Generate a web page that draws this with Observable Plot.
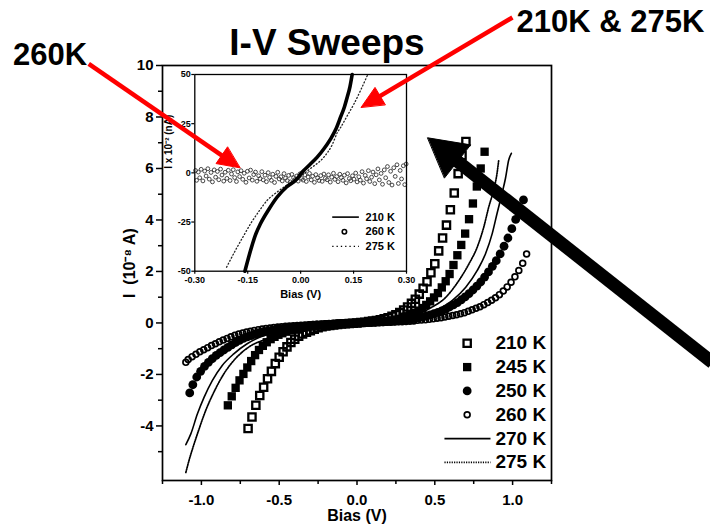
<!DOCTYPE html>
<html><head><meta charset="utf-8">
<script src="https://cdn.jsdelivr.net/npm/d3@7"></script>
<script src="https://cdn.jsdelivr.net/npm/@observablehq/plot@0.6"></script>
<style>
body{margin:0;background:#fff;}
#wrap{position:relative;width:710px;height:527px;overflow:hidden;background:#fff;}
#inset{position:absolute;left:150px;top:60px;z-index:1;}
#main{position:absolute;left:0;top:0;z-index:2;}
svg text{font-weight:bold;}
</style></head><body>
<div id="wrap"><div id="inset"></div><div id="main"></div></div>
<script>
// ---------------- DATA ----------------
const seriesLabels = ["210 K","245 K","250 K","260 K","270 K","275 K"];
const insetLabels = ["210 K","260 K","275 K"];
const titleText = "I-V Sweeps";
const annotTexts = ["260K","210K & 275K"];

// main panel: [bias (V), current (1e-8 A)]
const iv210 = [[-0.700,-4.10],[-0.675,-3.65],[-0.650,-3.20],[-0.625,-2.82],[-0.600,-2.50],[-0.575,-2.17],[-0.550,-1.88],[-0.525,-1.58],[-0.500,-1.33],[-0.475,-1.12],[-0.450,-0.93],[-0.425,-0.76],[-0.400,-0.63],[-0.375,-0.52],[-0.350,-0.43],[-0.325,-0.36],[-0.300,-0.30],[-0.275,-0.24],[-0.250,-0.19],[-0.225,-0.15],[-0.200,-0.12],[-0.175,-0.10],[-0.150,-0.08],[-0.125,-0.06],[-0.100,-0.04],[-0.075,-0.03],[-0.050,-0.02],[-0.025,-0.01],[0.000,0.00],[0.025,0.02],[0.050,0.03],[0.075,0.05],[0.100,0.07],[0.125,0.09],[0.150,0.12],[0.175,0.16],[0.200,0.20],[0.225,0.26],[0.250,0.32],[0.275,0.40],[0.300,0.50],[0.325,0.62],[0.350,0.76],[0.375,0.92],[0.400,1.12],[0.425,1.35],[0.450,1.60],[0.475,1.95],[0.500,2.30],[0.525,2.80],[0.550,3.30],[0.575,3.80],[0.600,4.40],[0.625,5.05],[0.650,5.80],[0.675,6.50],[0.700,7.05]];
const iv245 = [[-0.830,-3.20],[-0.805,-2.85],[-0.780,-2.52],[-0.755,-2.23],[-0.730,-1.98],[-0.705,-1.73],[-0.680,-1.48],[-0.655,-1.25],[-0.630,-1.05],[-0.605,-0.89],[-0.580,-0.75],[-0.555,-0.63],[-0.530,-0.54],[-0.505,-0.46],[-0.480,-0.40],[-0.455,-0.34],[-0.430,-0.29],[-0.405,-0.25],[-0.380,-0.22],[-0.355,-0.19],[-0.330,-0.17],[-0.305,-0.14],[-0.280,-0.12],[-0.255,-0.10],[-0.230,-0.09],[-0.205,-0.07],[-0.180,-0.06],[-0.155,-0.05],[-0.130,-0.04],[-0.105,-0.03],[-0.080,-0.02],[-0.055,-0.01],[-0.030,-0.01],[-0.005,0.00],[0.020,0.00],[0.045,0.01],[0.070,0.02],[0.095,0.03],[0.120,0.04],[0.145,0.05],[0.170,0.06],[0.195,0.08],[0.220,0.10],[0.245,0.13],[0.270,0.16],[0.295,0.21],[0.320,0.26],[0.345,0.32],[0.370,0.39],[0.395,0.48],[0.420,0.58],[0.445,0.70],[0.470,0.84],[0.495,0.99],[0.520,1.16],[0.545,1.38],[0.570,1.62],[0.595,1.90],[0.620,2.25],[0.645,2.63],[0.670,3.03],[0.695,3.47],[0.720,4.03],[0.745,4.64],[0.770,5.30],[0.795,6.00],[0.820,6.65]];
const iv250 = [[-1.075,-2.72],[-1.055,-2.40],[-1.030,-2.10],[-1.005,-1.88],[-0.980,-1.69],[-0.955,-1.53],[-0.930,-1.39],[-0.905,-1.26],[-0.880,-1.15],[-0.855,-1.05],[-0.830,-0.95],[-0.805,-0.85],[-0.780,-0.76],[-0.755,-0.68],[-0.730,-0.60],[-0.705,-0.54],[-0.680,-0.49],[-0.655,-0.44],[-0.630,-0.40],[-0.605,-0.36],[-0.580,-0.33],[-0.555,-0.30],[-0.530,-0.27],[-0.505,-0.24],[-0.480,-0.22],[-0.455,-0.20],[-0.430,-0.18],[-0.405,-0.16],[-0.380,-0.15],[-0.355,-0.13],[-0.330,-0.12],[-0.305,-0.10],[-0.280,-0.09],[-0.255,-0.08],[-0.230,-0.07],[-0.205,-0.06],[-0.180,-0.05],[-0.155,-0.04],[-0.130,-0.03],[-0.105,-0.02],[-0.080,-0.02],[-0.055,-0.01],[-0.030,-0.01],[-0.005,0.00],[0.020,0.00],[0.045,0.01],[0.070,0.01],[0.095,0.02],[0.120,0.02],[0.145,0.03],[0.170,0.04],[0.195,0.05],[0.220,0.06],[0.245,0.07],[0.270,0.08],[0.295,0.10],[0.320,0.12],[0.345,0.14],[0.370,0.17],[0.395,0.20],[0.420,0.23],[0.445,0.27],[0.470,0.31],[0.495,0.36],[0.520,0.41],[0.545,0.47],[0.570,0.54],[0.595,0.62],[0.620,0.70],[0.645,0.79],[0.670,0.90],[0.695,1.01],[0.720,1.14],[0.745,1.28],[0.770,1.43],[0.795,1.59],[0.820,1.78],[0.845,1.98],[0.870,2.20],[0.895,2.42],[0.920,2.68],[0.945,2.98],[0.970,3.30],[0.995,3.66],[1.020,4.02],[1.045,4.38],[1.070,4.78]];
const iv260 = [[-1.100,-1.53],[-1.085,-1.42],[-1.060,-1.31],[-1.035,-1.22],[-1.010,-1.12],[-0.985,-1.04],[-0.960,-0.96],[-0.935,-0.88],[-0.910,-0.81],[-0.885,-0.73],[-0.860,-0.66],[-0.835,-0.60],[-0.810,-0.54],[-0.785,-0.48],[-0.760,-0.43],[-0.735,-0.39],[-0.710,-0.35],[-0.685,-0.32],[-0.660,-0.29],[-0.635,-0.26],[-0.610,-0.24],[-0.585,-0.22],[-0.560,-0.20],[-0.535,-0.18],[-0.510,-0.16],[-0.485,-0.15],[-0.460,-0.13],[-0.435,-0.12],[-0.410,-0.11],[-0.385,-0.10],[-0.360,-0.09],[-0.335,-0.08],[-0.310,-0.07],[-0.285,-0.06],[-0.260,-0.05],[-0.235,-0.05],[-0.210,-0.04],[-0.185,-0.03],[-0.160,-0.03],[-0.135,-0.02],[-0.110,-0.02],[-0.085,-0.01],[-0.060,-0.01],[-0.035,-0.01],[-0.010,0.00],[0.015,0.00],[0.040,0.00],[0.065,0.01],[0.090,0.01],[0.115,0.01],[0.140,0.02],[0.165,0.02],[0.190,0.03],[0.215,0.03],[0.240,0.04],[0.265,0.05],[0.290,0.05],[0.315,0.06],[0.340,0.07],[0.365,0.08],[0.390,0.10],[0.415,0.11],[0.440,0.12],[0.465,0.14],[0.490,0.16],[0.515,0.18],[0.540,0.20],[0.565,0.23],[0.590,0.26],[0.615,0.29],[0.640,0.32],[0.665,0.36],[0.690,0.40],[0.715,0.45],[0.740,0.51],[0.765,0.57],[0.790,0.63],[0.815,0.71],[0.840,0.79],[0.865,0.88],[0.890,0.98],[0.915,1.10],[0.940,1.24],[0.965,1.40],[0.990,1.58],[1.015,1.79],[1.040,2.04],[1.065,2.32],[1.090,2.68]];
const iv270 = [[-1.100,-4.73],[-1.068,-4.31],[-1.026,-3.54],[-0.983,-2.89],[-0.930,-2.24],[-0.866,-1.65],[-0.792,-1.20],[-0.706,-0.81],[-0.622,-0.55],[-0.550,-0.40],[-0.473,-0.29],[-0.380,-0.19],[-0.260,-0.10],[-0.150,-0.05],[0.000,0.00],[0.150,0.04],[0.260,0.09],[0.358,0.16],[0.430,0.30],[0.507,0.49],[0.613,0.88],[0.699,1.39],[0.773,2.04],[0.826,2.69],[0.869,3.47],[0.900,4.25],[0.932,5.03],[0.954,5.61],[0.975,6.33],[0.992,6.59]];
const iv275 = [[-1.100,-5.81],[-1.080,-5.35],[-1.047,-4.70],[-1.015,-4.12],[-0.973,-3.41],[-0.920,-2.69],[-0.856,-1.98],[-0.782,-1.39],[-0.696,-0.94],[-0.579,-0.62],[-0.430,-0.36],[-0.217,-0.14],[0.000,0.00],[0.150,0.05],[0.315,0.16],[0.463,0.55],[0.571,1.00],[0.656,1.66],[0.720,2.30],[0.773,2.95],[0.815,3.73],[0.847,4.51],[0.878,5.16],[0.900,5.81],[0.911,6.33]];

// inset: [bias (V), current (1e-2 nA)]
const in210 = [[-0.158,-50],[-0.142,-39.5],[-0.128,-31.5],[-0.114,-25.9],[-0.090,-18.5],[-0.067,-12.4],[-0.040,-7.2],[-0.010,-3.0],[0.004,0.3],[0.025,4.0],[0.047,8.0],[0.065,12.0],[0.085,17.3],[0.100,22.3],[0.113,28.3],[0.124,33.5],[0.132,38.5],[0.140,44.0],[0.146,50]];
const in275 = [[-0.210,-48],[-0.180,-37.8],[-0.160,-31.5],[-0.142,-25.9],[-0.118,-19.5],[-0.095,-14.0],[-0.070,-10.2],[-0.048,-7.3],[-0.010,-3.0],[0.030,2.5],[0.066,8.0],[0.090,14.5],[0.104,20.5],[0.113,23.0],[0.132,29.0],[0.151,35.0],[0.170,42.0],[0.189,49.5]];
const in260 = [[-0.298,1.2],[-0.295,-3.8],[-0.290,0.4],[-0.286,-2.5],[-0.282,1.8],[-0.277,-4.1],[-0.272,0.9],[-0.268,-1.6],[-0.263,2.1],[-0.259,-3.2],[-0.254,0.2],[-0.250,-4.6],[-0.245,1.5],[-0.241,-2.2],[-0.236,0.7],[-0.232,-3.5],[-0.227,1.9],[-0.223,-1.1],[-0.218,-4.2],[-0.214,0.3],[-0.209,-2.8],[-0.205,1.3],[-0.200,-3.9],[-0.196,-0.6],[-0.191,1.6],[-0.187,-2.4],[-0.182,-4.4],[-0.178,0.5],[-0.173,-1.9],[-0.169,1.1],[-0.164,-3.3],[-0.160,-0.2],[-0.155,-4.8],[-0.151,0.8],[-0.146,-2.6],[-0.142,1.4],[-0.137,-3.7],[-0.133,-0.9],[-0.128,0.4],[-0.124,-4.3],[-0.119,-1.5],[-0.115,-2.9],[-0.110,0.6],[-0.106,-3.6],[-0.101,-1.2],[-0.097,-4.5],[-0.092,0.1],[-0.088,-2.3],[-0.083,-3.8],[-0.079,-0.7],[-0.074,-4.9],[-0.070,-1.8],[-0.065,0.3],[-0.061,-3.1],[-0.056,-2.0],[-0.052,-4.1],[-0.047,-0.4],[-0.043,-2.7],[-0.038,-3.9],[-0.034,-1.3],[-0.029,-4.6],[-0.025,-0.8],[-0.020,-2.5],[-0.016,-3.4],[-0.011,-1.6],[-0.007,-4.2],[-0.002,-0.5],[0.003,-2.9],[0.007,-3.7],[0.012,-1.1],[0.016,-4.4],[0.021,-2.1],[0.025,-0.3],[0.030,-3.6],[0.034,-1.7],[0.039,-4.8],[0.043,-0.9],[0.048,-2.6],[0.052,-3.9],[0.057,-1.4],[0.061,-4.3],[0.066,-0.6],[0.070,-2.8],[0.075,-3.5],[0.079,-1.0],[0.084,-4.7],[0.088,-2.2],[0.093,-0.2],[0.097,-3.3],[0.102,-1.9],[0.106,-4.5],[0.111,-0.7],[0.115,-2.4],[0.120,-3.8],[0.124,-1.2],[0.129,-5.1],[0.133,-0.4],[0.138,-2.9],[0.142,-4.0],[0.147,-1.5],[0.151,-3.2],[0.156,-0.1],[0.160,-4.6],[0.165,-2.0],[0.169,-3.7],[0.174,0.6],[0.178,-5.2],[0.183,-1.3],[0.187,-3.0],[0.192,1.1],[0.196,-4.4],[0.201,-2.2],[0.205,0.4],[0.210,-5.5],[0.214,-1.0],[0.219,2.0],[0.223,-3.6],[0.228,-0.3],[0.232,-5.8],[0.237,1.5],[0.241,-2.5],[0.246,3.2],[0.250,-4.9],[0.255,0.8],[0.259,-6.2],[0.264,2.6],[0.268,-1.8],[0.273,4.1],[0.277,-5.4],[0.282,1.2],[0.286,-3.1],[0.291,3.6],[0.295,-6.0],[0.299,4.5]];

// tick values
const xMajor = [-1, -0.5, 0, 0.5, 1];
const xMinor = [-1.25, -0.75, -0.25, 0.25, 0.75, 1.25];
const yMajor = [-4, -2, 0, 2, 4, 6, 8, 10];
const yMinor = [-5, -3, -1, 1, 3, 5, 7, 9];
const inXTicks = [-0.3, -0.15, 0, 0.15, 0.3];
const inYTicks = [-50, -25, 0, 25, 50];

// ---------------- LAYOUT ----------------
const FONT = "'Liberation Sans', Arial, Helvetica, sans-serif";
const W = 710, H = 527, mL = 162, mR = 159, mT = 65, mB = 47;
const xDom = [-1.25, 1.25], yDom = [-6.12, 10];
const kx = (W - mL - mR) / (xDom[1] - xDom[0]);
const ky = (H - mT - mB) / (yDom[1] - yDom[0]);

// annotation anchors in data units of the main panel
const annotPos = [[-2.21, 10.03], [1.025, 11.29]];
const titlePos = [-0.193, 10.39];
const arrowDefs = [
  {tail: [-1.724, 10.066], tip: [-0.753, 6.026], color: "#ff0000", width: 4.5, headLen: 22, headW: 20},
  {tail: [0.999, 11.865], tip: [0.027, 8.38], color: "#ff0000", width: 4.5, headLen: 22, headW: 20},
  {tail: [2.285, -1.538], tip: [0.455, 7.191], color: "#000000", width: 13, headLen: 38, headW: 42}
];

function arrowParts(a) {
  const dxp = (a.tip[0] - a.tail[0]) * kx, dyp = -(a.tip[1] - a.tail[1]) * ky;
  const len = Math.hypot(dxp, dyp), ux = dxp / len, uy = dyp / len;
  const toData = (px, py) => [a.tip[0] + px / kx, a.tip[1] - py / ky];
  const bx = -a.headLen * ux, by = -a.headLen * uy;
  const c1 = toData(bx - a.headW / 2 * uy, by + a.headW / 2 * ux);
  const c2 = toData(bx + a.headW / 2 * uy, by - a.headW / 2 * ux);
  const neck = toData(-a.headLen * 0.7 * ux, -a.headLen * 0.7 * uy);
  return {shaft: [{x1: a.tail[0], y1: a.tail[1], x2: neck[0], y2: neck[1]}], head: [a.tip, c1, c2]};
}

// legend layout (main)
const legMarkX = 0.708, legLineX1 = 0.562, legLineX2 = 0.858, legTextX = 0.89, legTop = -0.79, legStep = 0.925;
const legRows = seriesLabels.map((t, i) => ({t, y: legTop - i * legStep}));

const X = d => d[0], Y = d => d[1];

const arrowMarks = arrowDefs.flatMap(a => {
  const p = arrowParts(a);
  return [
    Plot.link(p.shaft, {x1: "x1", y1: "y1", x2: "x2", y2: "y2", stroke: a.color, strokeWidth: a.width, strokeLinecap: "butt"}),
    Plot.line(p.head, {x: X, y: Y, fill: a.color, stroke: a.color, strokeWidth: 1, curve: "linear-closed"})
  ];
});

const main = Plot.plot({
  width: W, height: H, marginLeft: mL, marginRight: mR, marginTop: mT, marginBottom: mB,
  x: {domain: xDom}, y: {domain: yDom},
  style: {background: "transparent", fontFamily: FONT, fontSize: "15px", fontWeight: "bold", color: "black"},
  marks: [
    Plot.axisX({ticks: xMajor, tickSize: 5, tickPadding: 9, strokeWidth: 1.5, tickFormat: d => d.toFixed(1), label: null}),
    Plot.axisX({ticks: xMinor, tickSize: 4, strokeWidth: 1.5, tickFormat: () => "", label: null}),
    Plot.axisY({ticks: yMajor, tickSize: 6, tickPadding: 3, strokeWidth: 1.5, tickFormat: d => String(d), label: null}),
    Plot.axisY({ticks: yMinor, tickSize: 4, strokeWidth: 1.5, tickFormat: () => "", label: null}),
    Plot.text(["I  (10⁻⁸ A)"], {text: d => d, frameAnchor: "left", dx: -33, dy: 25, rotate: -90, fontSize: 16}),
    Plot.text(["Bias (V)"], {text: d => d, frameAnchor: "bottom", dy: 29, lineAnchor: "top", fontSize: 16}),
    // series
    Plot.line(iv275, {x: X, y: Y, stroke: "black", strokeWidth: 1.7, strokeDasharray: "1.2,1.2", curve: "monotone-x"}),
    Plot.line(iv270, {x: X, y: Y, stroke: "black", strokeWidth: 1.6, curve: "monotone-x"}),
    Plot.dot(iv260, {x: X, y: Y, symbol: "circle", r: 2.9, fill: "none", stroke: "black", strokeWidth: 1.7}),
    Plot.dot(iv250, {x: X, y: Y, symbol: "circle", r: 4.4, fill: "black", stroke: "none"}),
    Plot.dot(iv245, {x: X, y: Y, symbol: "square", r: 4.7, fill: "black", stroke: "none"}),
    Plot.dot(iv210, {x: X, y: Y, symbol: "square", r: 4.1, fill: "none", stroke: "black", strokeWidth: 2.3}),
    // legend
    Plot.dot([legRows[0]], {x: () => legMarkX, y: "y", symbol: "square", r: 4.1, fill: "none", stroke: "black", strokeWidth: 2.3}),
    Plot.dot([legRows[1]], {x: () => legMarkX, y: "y", symbol: "square", r: 4.7, fill: "black", stroke: "none"}),
    Plot.dot([legRows[2]], {x: () => legMarkX, y: "y", symbol: "circle", r: 4.4, fill: "black", stroke: "none"}),
    Plot.dot([legRows[3]], {x: () => legMarkX, y: "y", symbol: "circle", r: 2.9, fill: "none", stroke: "black", strokeWidth: 1.7}),
    Plot.link([legRows[4]], {x1: () => legLineX1, x2: () => legLineX2, y1: "y", y2: "y", stroke: "black", strokeWidth: 1.8}),
    Plot.link([legRows[5]], {x1: () => legLineX1, x2: () => legLineX2, y1: "y", y2: "y", stroke: "black", strokeWidth: 1.7, strokeDasharray: "1.2,1.2"}),
    Plot.text(legRows, {x: () => legTextX, y: "y", text: "t", textAnchor: "start", fontSize: 19}),
    Plot.frame({stroke: "black", strokeWidth: 1.7}),
    // annotations
    ...arrowMarks,
    Plot.text([titleText], {text: d => d, x: () => titlePos[0], y: () => titlePos[1], lineAnchor: "bottom", fontSize: 37}),
    Plot.text(annotTexts, {text: d => d, x: (d, i) => annotPos[i][0], y: (d, i) => annotPos[i][1], textAnchor: "start", lineAnchor: "bottom", fontSize: 31})
  ]
});
document.getElementById("main").appendChild(main);

// ---------------- INSET ----------------
const iW = 270, iH = 250, iL = 44.3, iR = 14, iT = 14, iB = 39.3;
const inLegLineX1 = 0.0895, inLegLineX2 = 0.165, inLegMarkX = 0.124, inLegTextX = 0.184, inLegTop = -22.5, inLegStep = 7.45;
const inLegRows = insetLabels.map((t, i) => ({t, y: inLegTop - i * inLegStep}));

const inset = Plot.plot({
  width: iW, height: iH, marginLeft: iL, marginRight: iR, marginTop: iT, marginBottom: iB,
  x: {domain: [-0.3, 0.3]}, y: {domain: [-50, 50]},
  style: {background: "transparent", fontFamily: FONT, fontSize: "9px", fontWeight: "bold", color: "black"},
  marks: [
    Plot.axisX({ticks: inXTicks, tickSize: 3, tickPadding: 2, strokeWidth: 1.2, tickFormat: d => d.toFixed(2), label: null}),
    Plot.axisY({ticks: inYTicks, tickSize: 3, tickPadding: 1, strokeWidth: 1.2, tickFormat: d => String(d), label: null}),
    Plot.text(["Bias (V)"], {text: d => d, frameAnchor: "bottom", dy: 19, lineAnchor: "top", fontSize: 11}),
    Plot.text(["I x 10⁻² (nA)"], {text: d => d, frameAnchor: "left", dx: -26, dy: -4, rotate: -90, fontSize: 10}),
    Plot.dot(in260, {x: X, y: Y, r: 1.9, fill: "none", stroke: "#333", strokeWidth: 0.9}),
    Plot.line(in275, {x: X, y: Y, stroke: "#222", strokeWidth: 1.3, strokeDasharray: "1,2.4", curve: "monotone-x"}),
    Plot.line(in210, {x: X, y: Y, stroke: "black", strokeWidth: 3.6, curve: "monotone-x"}),
    Plot.link([inLegRows[0]], {x1: () => inLegLineX1, x2: () => inLegLineX2, y1: "y", y2: "y", stroke: "black", strokeWidth: 1.6}),
    Plot.dot([inLegRows[1]], {x: () => inLegMarkX, y: "y", r: 2.2, fill: "none", stroke: "black", strokeWidth: 1.6}),
    Plot.link([inLegRows[2]], {x1: () => inLegLineX1, x2: () => inLegLineX2, y1: "y", y2: "y", stroke: "black", strokeWidth: 1.3, strokeDasharray: "1.3,3"}),
    Plot.text(inLegRows, {x: () => inLegTextX, y: "y", text: "t", textAnchor: "start", fontSize: 11}),
    Plot.frame({stroke: "black", strokeWidth: 1.3})
  ]
});
document.getElementById("inset").appendChild(inset);
</script>
</body></html>
